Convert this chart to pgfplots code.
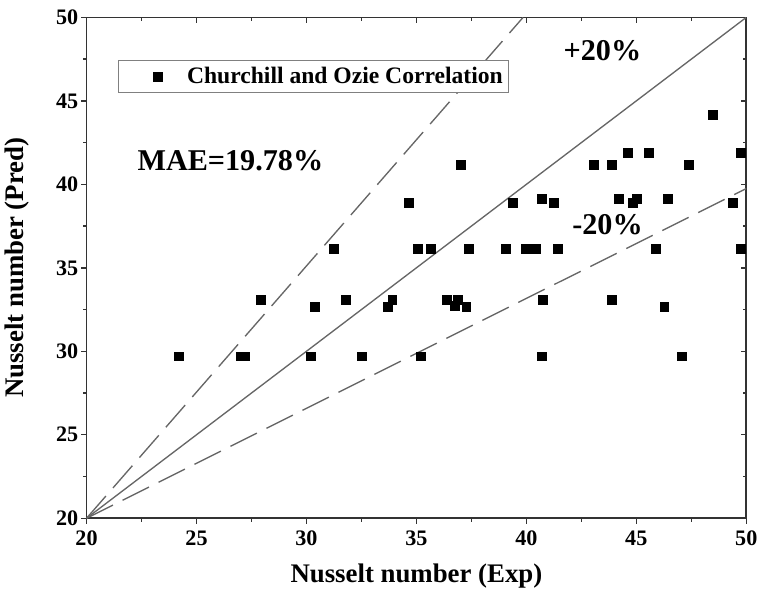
\documentclass[border=0pt]{standalone}
\usepackage{fontspec}
\setmainfont{Liberation Serif}
\usepackage{pgfplots}
\pgfplotsset{compat=1.18}
\usepackage{pgfplotstable}
\pgfplotstableread{
x y
24.19 29.70
27.03 29.70
27.19 29.70
30.21 29.70
32.50 29.70
35.18 29.70
40.71 29.70
47.08 29.70
30.37 32.69
33.70 32.69
36.75 32.75
37.27 32.69
46.27 32.69
27.91 33.11
31.80 33.11
33.90 33.11
36.37 33.11
36.87 33.11
40.74 33.11
43.88 33.11
31.23 36.13
35.07 36.13
35.65 36.13
37.39 36.13
39.07 36.13
39.95 36.13
40.18 36.13
40.45 36.13
41.43 36.13
45.87 36.13
49.75 36.13
34.65 38.90
39.39 38.90
41.25 38.90
44.83 38.90
49.37 38.90
40.71 39.14
44.19 39.14
45.02 39.14
46.43 39.14
37.00 41.19
43.08 41.19
43.88 41.19
47.39 41.19
44.60 41.89
45.56 41.89
49.75 41.89
48.49 44.16
}\datatable
\pgfplotsset{
  mylegend/.style={legend image code/.code={\path[draw=none,fill=none] (0pt,-4pt) rectangle (47.5pt,4pt); \draw[##1] plot coordinates {(27.5pt,0pt)};}},
  common/.style={
    scale only axis, width=492pt, height=373.5pt,
    xmin=20, xmax=50, ymin=20, ymax=50,
    xtick={20,25,...,50}, ytick={20,25,...,50},
    minor tick num=1,
    major tick length=4pt, minor tick length=2.5pt,
    axis line style={line width=1.2pt, black!80},
    every tick/.style={line width=1pt, black!80},
  }
}
\begin{document}
\begin{tikzpicture}
\begin{axis}[common,
  tick align=inside, xtick pos=top, ytick pos=right,
  xticklabels={}, yticklabels={}]
\end{axis}
\begin{axis}[common,
  tick align=outside, xtick pos=bottom, ytick pos=left,
  /pgf/number format/assume math mode=true,
  ticklabel style={font=\bfseries\fontsize{16.5}{18}\selectfont, inner sep=2pt},
  xticklabel style={yshift=-3.5pt},
  xlabel={\bfseries Nusselt number (Exp)},
  ylabel={\bfseries Nusselt number (Pred)},
  label style={font=\bfseries\fontsize{20}{22}\selectfont},
  xlabel style={at={(axis description cs:0.5,-0.1145)}, anchor=center, inner sep=2pt},
  ylabel style={at={(axis description cs:-0.106,0.5)}, anchor=center, rotate=0},
  legend style={at={(0.047,0.914)}, anchor=north west, draw=black!50, line width=0.6pt,
    font=\bfseries\fontsize{17.6}{19}\selectfont, inner xsep=2pt, inner ysep=3pt},
  legend cell align=left,
]
\addplot[only marks, mark=square*, mark size=3.3pt, black, mylegend]
  table[x=x,y=y]{\datatable};
\addlegendentry{Churchill and Ozie Correlation}
\addplot[black!60, line width=1pt, forget plot] coordinates {(20,20) (50,50)};
\addplot[black!60, line width=1pt, dash pattern=on 22pt off 8pt, forget plot] coordinates {(20,20) (39.85,50)};
\addplot[black!60, line width=1pt, dash pattern=on 22pt off 8pt, forget plot] coordinates {(20,20) (50,39.75)};
\node[font=\bfseries\fontsize{22.5}{24}\selectfont] at (axis cs:26.54,41.39) {MAE=19.78\%};
\node[font=\bfseries\fontsize{22.5}{24}\selectfont] at (axis cs:43.46,48.0) {+20\%};
\node[font=\bfseries\fontsize{22.5}{24}\selectfont] at (axis cs:43.69,37.6) {-20\%};
\end{axis}
\path (current axis.north) -- ++(0,13pt);
\end{tikzpicture}
\end{document}
